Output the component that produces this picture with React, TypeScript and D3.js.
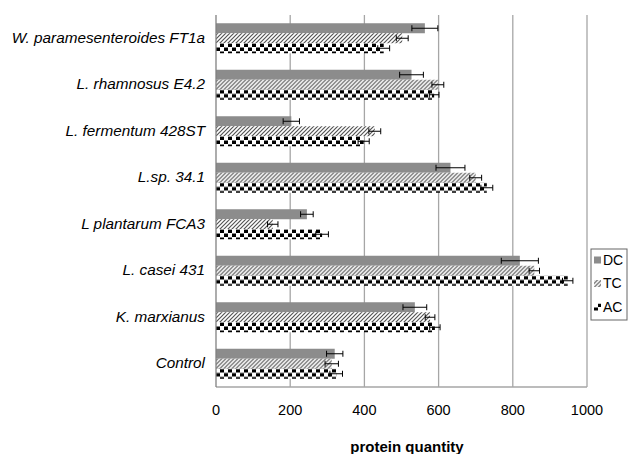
import * as d3 from 'd3';

const categories = [
  'W. paramesenteroides FT1a',
  'L. rhamnosus E4.2',
  'L. fermentum 428ST',
  'L.sp. 34.1',
  'L plantarum FCA3',
  'L. casei 431',
  'K. marxianus',
  'Control',
];
const seriesNames = ['DC', 'TC', 'AC'];
const dcValues = [563, 527, 203, 632, 245, 819, 536, 320];
const dcErrors = [35, 32, 22, 39, 17, 50, 32, 22];
const tcValues = [502, 598, 428, 700, 153, 858, 577, 312];
const tcErrors = [16, 16, 16, 16, 14, 14, 13, 18];
const acValues = [452, 588, 398, 730, 286, 948, 590, 324];
const acErrors = [16, 13, 15, 16, 17, 14, 14, 17];
const xTicks = [0, 200, 400, 600, 800, 1000];

const values = [dcValues, tcValues, acValues];
const errors = [dcErrors, tcErrors, acErrors];
const fills = ['#8c8c8c', 'url(#hatch)', 'url(#checker)'];

const W = 630;
const H = 454;
const margin = { top: 15, right: 43, bottom: 67, left: 216 };

export default function App() {
  const x = d3.scaleLinear().domain([0, 1000]).range([margin.left, W - margin.right]);
  const y = d3.scaleBand().domain(categories).range([margin.top, H - margin.bottom]).padding(0);
  const step = y.bandwidth();
  const inner = d3.scaleBand().domain(seriesNames).range([(step - 30) / 2, (step + 30) / 2]);
  const font = 'Arial, "Liberation Sans", sans-serif';
  const bottom = H - margin.bottom;

  return (
    <svg width={W} height={H} style={{ position: 'absolute', left: 0, top: 0, background: '#fff' }} fontFamily={font}>
      <defs>
        <pattern id="hatch" width="4" height="4" patternUnits="userSpaceOnUse">
          <rect width="4" height="4" fill="#fff" />
          <path d="M-1,1 l2,-2 M0,4 l4,-4 M3,5 l2,-2" stroke="#555" strokeWidth="1.2" />
        </pattern>
        <pattern id="checker" width="8" height="8" patternUnits="userSpaceOnUse">
          <rect width="8" height="8" fill="#fff" />
          <rect x="0" y="0.5" width="4" height="3.5" fill="#000" />
          <rect x="4" y="4.5" width="4" height="3.5" fill="#000" />
        </pattern>
      </defs>

      {/* gridlines */}
      {xTicks.slice(1).map(t => (
        <line key={t} x1={x(t)} x2={x(t)} y1={margin.top} y2={bottom} stroke="#a6a6a6" strokeWidth={1.3} />
      ))}
      <line x1={x(0)} x2={x(1000)} y1={bottom} y2={bottom} stroke="#a6a6a6" strokeWidth={1.3} />

      {/* bars */}
      {categories.map((c, i) => (
        <g key={c} transform={`translate(0,${y(c)})`}>
          {seriesNames.map((s, k) => (
            <rect key={s} x={x(0)} y={inner(s)} width={x(values[k][i]) - x(0)} height={inner.bandwidth()} fill={fills[k]} />
          ))}
        </g>
      ))}

      {/* error bars */}
      {categories.map((c, i) => (
        <g key={c} transform={`translate(0,${y(c)})`} stroke="#000" strokeWidth={1}>
          {seriesNames.map((s, k) => {
            const cy = (inner(s) as number) + inner.bandwidth() / 2;
            const lo = x(values[k][i] - errors[k][i]);
            const hi = x(values[k][i] + errors[k][i]);
            return (
              <g key={s}>
                <line x1={lo} x2={hi} y1={cy} y2={cy} />
                <line x1={lo} x2={lo} y1={cy - 3} y2={cy + 3} />
                <line x1={hi} x2={hi} y1={cy - 3} y2={cy + 3} />
              </g>
            );
          })}
        </g>
      ))}

      <line x1={x(0)} x2={x(0)} y1={margin.top} y2={bottom} stroke="#808080" strokeWidth={1.3} />

      {/* category labels */}
      {categories.map(c => (
        <text key={c} x={205} y={(y(c) as number) + step / 2 - 1} dy="0.35em" textAnchor="end" fontStyle="italic" fontSize={15.3} fill="#000">
          {c}
        </text>
      ))}

      {/* x tick labels */}
      {xTicks.map(t => (
        <text key={t} x={x(t)} y={415} textAnchor="middle" fontSize={14.5} fill="#000">{t}</text>
      ))}
      <text x={407} y={452} textAnchor="middle" fontSize={15} fontWeight="bold" fill="#000">protein quantity</text>

      {/* legend */}
      <rect x={591} y={249} width={36} height={71} fill="#fff" stroke="#666" strokeWidth={1} />
      {seriesNames.map((s, k) => (
        <g key={s} transform={`translate(594,${260 + k * 23.5})`}>
          <rect x={0} y={-3.5} width={7} height={7} fill={fills[k]} />
          <text x={9} y={0} dy="0.35em" fontSize={14} fill="#000">{s}</text>
        </g>
      ))}
    </svg>
  );
}
